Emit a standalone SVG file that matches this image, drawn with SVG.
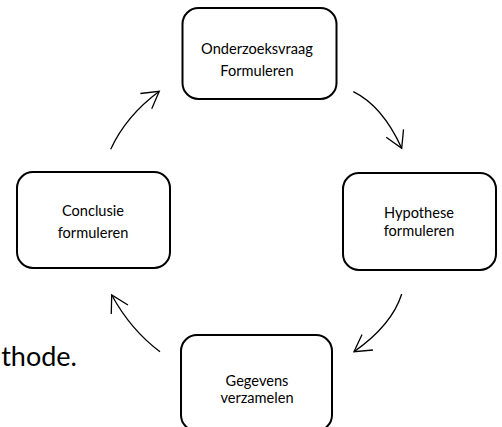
<svg xmlns="http://www.w3.org/2000/svg" width="502" height="427" viewBox="0 0 502 427">
<defs>
<style>
.box{fill:#fff;stroke:#000;stroke-width:2}
.lbl{font-family:Lato,"Liberation Sans",sans-serif;font-size:14.6px;fill:#000;text-anchor:middle}
.conn{fill:none;stroke:#000;stroke-width:1.3;marker-end:url(#arr)}
.body{font-family:Lato,"Liberation Sans",sans-serif;font-size:27px;fill:#000}
</style>
<marker id="arr" markerUnits="userSpaceOnUse" markerWidth="24" markerHeight="24" viewBox="-20 -12 22 24" refX="0" refY="0" orient="auto">
<path d="M-16.5,-9.5 L0,0 L-16.5,9.5" fill="none" stroke="#000" stroke-width="1.3"/>
</marker>
</defs>
<rect width="502" height="427" fill="#fff"/>
<text class="body" x="77" y="366" text-anchor="end">thode.</text>
<g id="connectors">
<path class="conn" d="M353.3,91.7 Q382.5,106 401.7,148.3"/>
<path class="conn" d="M401.7,294 Q392,325 354,351.7"/>
<path class="conn" d="M160,351.7 Q130.8,330 111.7,295"/>
<path class="conn" d="M110.7,149.3 Q126,116 159.3,91.3"/>
</g>
<g id="n1">
<rect class="box" x="182.5" y="8" width="154" height="91" rx="16"/>
<text class="lbl" x="257" y="54">Onderzoeksvraag</text>
<text class="lbl" x="257" y="76">Formuleren</text>
</g>
<g id="n2">
<rect class="box" x="343" y="173" width="153" height="97" rx="16"/>
<text class="lbl" x="419" y="218">Hypothese</text>
<text class="lbl" x="419" y="236">formuleren</text>
</g>
<g id="n3">
<rect class="box" x="181" y="335" width="151" height="96" rx="16"/>
<text class="lbl" x="257" y="386">Gegevens</text>
<text class="lbl" x="257" y="403">verzamelen</text>
</g>
<g id="n4">
<rect class="box" x="17" y="172" width="153" height="96" rx="16"/>
<text class="lbl" x="93" y="216">Conclusie</text>
<text class="lbl" x="93" y="238">formuleren</text>
</g>
</svg>
